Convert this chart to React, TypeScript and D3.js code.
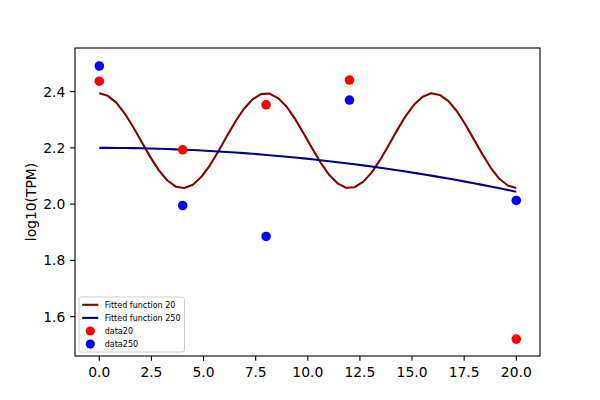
import React from "react";
import * as d3 from "d3";

// Sample positions of the fitted curves
const xFit = [0, 0.408, 0.816, 1.224, 1.633, 2.041, 2.449, 2.857, 3.265, 3.673, 4.082, 4.49, 4.898, 5.306, 5.714, 6.122, 6.531, 6.939, 7.347, 7.755, 8.163, 8.571, 8.98, 9.388, 9.796, 10.204, 10.612, 11.02, 11.429, 11.837, 12.245, 12.653, 13.061, 13.469, 13.878, 14.286, 14.694, 15.102, 15.51, 15.918, 16.327, 16.735, 17.143, 17.551, 17.959, 18.367, 18.776, 19.184, 19.592, 20.0];

const fit20 = [2.394, 2.385, 2.361, 2.322, 2.273, 2.22, 2.167, 2.12, 2.084, 2.062, 2.057, 2.069, 2.097, 2.138, 2.188, 2.242, 2.294, 2.339, 2.372, 2.391, 2.393, 2.377, 2.347, 2.303, 2.252, 2.199, 2.148, 2.104, 2.074, 2.058, 2.06, 2.079, 2.112, 2.157, 2.209, 2.263, 2.313, 2.354, 2.382, 2.394, 2.388, 2.367, 2.331, 2.284, 2.231, 2.178, 2.129, 2.09, 2.066, 2.057];

const fit250 = [2.2, 2.2, 2.1997, 2.1994, 2.199, 2.1984, 2.1977, 2.1968, 2.1958, 2.1947, 2.1935, 2.1921, 2.1906, 2.189, 2.1873, 2.1854, 2.1834, 2.1812, 2.1789, 2.1765, 2.174, 2.1713, 2.1686, 2.1656, 2.1626, 2.1594, 2.1561, 2.1526, 2.1491, 2.1454, 2.1415, 2.1376, 2.1335, 2.1292, 2.1249, 2.1204, 2.1158, 2.1111, 2.1062, 2.1012, 2.096, 2.0908, 2.0854, 2.0799, 2.0742, 2.0684, 2.0625, 2.0565, 2.0503, 2.044];

const xData = [0, 4, 8, 12, 20];
const data20 = [2.437, 2.193, 2.353, 2.441, 1.52];
const data250 = [2.491, 1.995, 1.885, 2.37, 2.013];

const xTicks = [0, 2.5, 5, 7.5, 10, 12.5, 15, 17.5, 20];
const yTicks = [1.6, 1.8, 2.0, 2.2, 2.4];

const legendItems = [
  { label: "Fitted function 20", kind: "line", color: "#800000" },
  { label: "Fitted function 250", kind: "line", color: "#000080" },
  { label: "data20", kind: "dot", color: "#ff0000" },
  { label: "data250", kind: "dot", color: "#0000ff" },
];

const W = 600;
const H = 400;
const L = 75, R = 540, T = 48, B = 356;
const FONT = "'DejaVu Sans', sans-serif";

export default function App() {
  const x = d3.scaleLinear().domain([-1.165, 21.137]).range([L, R]);
  const y = d3.scaleLinear().domain([1.46, 2.555]).range([B, T]);
  const line = d3
    .line<number>()
    .x((_, i) => x(xFit[i]))
    .y((d) => y(d));
  const tick = 4.86;
  const r = 4.8;

  return (
    <svg
      width={W}
      height={H}
      style={{ position: "absolute", left: 0, top: 0, background: "#fff" }}
      fontFamily={FONT}
    >
      <rect x={0} y={0} width={W} height={H} fill="#fff" />
      <path d={line(fit20) || ""} fill="none" stroke="#800000" strokeWidth={2.08} strokeLinejoin="round" />
      <path d={line(fit250) || ""} fill="none" stroke="#000080" strokeWidth={2.08} strokeLinejoin="round" />
      {data20.map((v, i) => (
        <circle key={"r" + i} cx={x(xData[i])} cy={y(v)} r={r} fill="#ff0000" />
      ))}
      {data250.map((v, i) => (
        <circle key={"b" + i} cx={x(xData[i])} cy={y(v)} r={r} fill="#0000ff" />
      ))}
      <rect x={L} y={T} width={R - L} height={B - T} fill="none" stroke="#000" strokeWidth={1.1} />
      {xTicks.map((t) => (
        <g key={"xt" + t}>
          <line x1={x(t)} x2={x(t)} y1={B} y2={B + tick} stroke="#000" strokeWidth={1.1} />
          <text x={x(t)} y={376.5} fontSize={13.89} textAnchor="middle" fill="#000">
            {t.toFixed(1)}
          </text>
        </g>
      ))}
      {yTicks.map((t) => (
        <g key={"yt" + t}>
          <line x1={L - tick} x2={L} y1={y(t)} y2={y(t)} stroke="#000" strokeWidth={1.1} />
          <text x={65.3} y={y(t) + 5.05} fontSize={13.89} textAnchor="end" fill="#000">
            {t.toFixed(1)}
          </text>
        </g>
      ))}
      <text
        transform={`translate(36,${(T + B) / 2}) rotate(-90)`}
        fontSize={13.89}
        textAnchor="middle"
        fill="#000"
      >
        log10(TPM)
      </text>
      <g>
        <rect x={79} y={297} width={105.5} height={55} rx={2.5} fill="#fff" fillOpacity={0.8} stroke="#cccccc" strokeWidth={1} />
        {legendItems.map((it, i) => {
          const cy = 304.8 + i * 13.1;
          return (
            <g key={it.label}>
              {it.kind === "line" ? (
                <line x1={82.2} x2={98.3} y1={cy} y2={cy} stroke={it.color} strokeWidth={2.08} />
              ) : (
                <circle cx={90.3} cy={cy} r={4.6} fill={it.color} />
              )}
              <text x={104.7} y={cy + 2.9} fontSize={8.04} fill="#000">
                {it.label}
              </text>
            </g>
          );
        })}
      </g>
    </svg>
  );
}
